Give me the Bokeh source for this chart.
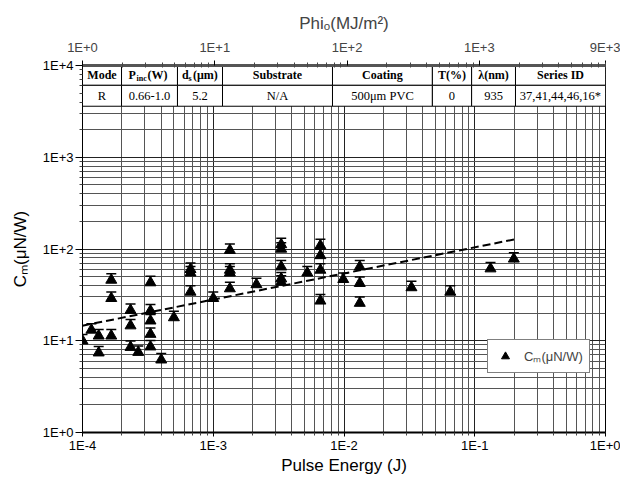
import math
from bokeh.plotting import figure
from bokeh.models import (Range1d, LogScale, LogAxis, FixedTicker, CustomJSTickFormatter,
                          Whisker, ColumnDataSource, Legend, LegendItem, TeeHead)
from bokeh.core.properties import value
from bokeh.embed import file_html
from bokeh.resources import INLINE

# ---------------- data ----------------
energy = [1.0e-4, 1.17e-4, 1.33e-4, 1.33e-4, 1.66e-4, 1.66e-4, 1.66e-4,
          2.33e-4, 2.33e-4, 2.33e-4, 2.67e-4,
          3.31e-4, 3.31e-4, 3.31e-4, 3.31e-4, 3.31e-4, 4.0e-4, 5.0e-4,
          6.7e-4, 6.7e-4, 6.7e-4, 1.0e-3,
          1.34e-3, 1.34e-3, 1.34e-3, 1.34e-3, 2.14e-3,
          3.31e-3, 3.31e-3, 3.31e-3, 3.31e-3, 3.31e-3, 5.24e-3,
          6.6e-3, 6.6e-3, 6.6e-3, 6.6e-3, 9.87e-3,
          1.32e-2, 1.32e-2, 1.32e-2, 3.28e-2, 6.5e-2, 0.132, 0.199]
cm = [10.0, 13.1, 11.3, 7.4, 45.9, 29.0, 11.3,
      21.5, 14.6, 8.5, 7.5,
      43.0, 21.2, 16.5, 11.8, 8.6, 6.2, 17.9,
      60.0, 55.0, 34.0, 29.0,
      97.0, 59.0, 55.0, 37.0, 41.0,
      112.0, 100.0, 64.0, 47.5, 43.6, 55.0,
      109.0, 85.0, 59.0, 27.2, 46.7,
      64.0, 42.3, 25.7, 38.0, 34.0, 61.0, 78.0]
err_frac = 0.17  # upper error bar, relative

fit_energy = [1.0e-4, 0.2]
fit_cm = [14.6, 127.0]

x_ticks = [1e-4, 1e-3, 1e-2, 1e-1, 1.0]
y_ticks = [1.0, 10.0, 100.0, 1000.0, 10000.0]
phi_ticks = [1.0, 10.0, 100.0, 1000.0, 9000.0]

table_headers = ["Mode", "", "", "Substrate", "Coating", "T(%)", "λ(nm)", "Series ID"]
table_values = ["R", "0.66-1.0", "5.2", "N/A", "500μm PVC", "0", "935", "37,41,44,46,16*"]

legend_label = "Cₘ(μN/W)"
x_label = "Pulse Energy (J)"
y_label = "Cₘ(μN/W)"
top_label = "Phiₒ(MJ/m²)"

# ---------------- layout constants ----------------
col_fracs = [0.0, 0.0746, 0.1816, 0.2677, 0.478, 0.669, 0.744, 0.8279, 1.0]
row_fracs = [0.0, 0.054, 0.111]
SANS = "Liberation Sans"
SERIF = "Liberation Serif"


def minors(lo_exp, hi_exp, stop=None):
    out = []
    for e in range(lo_exp, hi_exp):
        for m in range(2, 10):
            v = m * 10.0 ** e
            if stop is None or v <= stop:
                out.append(v)
    return out


fmt = CustomJSTickFormatter(code="""
const e = Math.floor(Math.log10(tick) + 1e-9);
const m = Math.round(tick / Math.pow(10, e));
return m + "E" + (e < 0 ? "-" : "+") + Math.abs(e);
""")

p = figure(frame_width=523, frame_height=367, x_axis_type="log", y_axis_type="log",
           x_range=Range1d(1e-4, 1.0), y_range=Range1d(1.0, 1e4),
           output_backend="svg", toolbar_location=None,
           min_border_left=82, min_border_right=15, min_border_top=65, min_border_bottom=10)
p.outline_line_color = "black"
p.outline_line_width = 1
p.background_fill_color = "white"
p.border_fill_color = "white"

xa = p.below[0]
ya = p.left[0]
xa.ticker = FixedTicker(ticks=x_ticks, minor_ticks=minors(-4, 0))
ya.ticker = FixedTicker(ticks=y_ticks, minor_ticks=minors(0, 4))
for ax in (xa, ya):
    ax.formatter = fmt
    ax.major_label_text_font = SANS
    ax.major_label_text_font_size = "13px"
    ax.major_label_text_color = "black"
    ax.axis_label_text_font = SANS
    ax.axis_label_text_font_size = "17px"
    ax.axis_label_text_font_style = "normal"
    ax.axis_label_text_color = "black"
    ax.axis_line_color = "black"
    ax.major_tick_line_color = "black"
    ax.minor_tick_line_color = "#444444"
    ax.major_tick_in = 0
    ax.minor_tick_in = 0
xa.axis_label = x_label
xa.axis_line_width = 2
xa.major_tick_out = 4
xa.minor_tick_out = 3
xa.major_label_standoff = 1
xa.axis_label_standoff = 0
ya.axis_label = y_label
ya.major_tick_out = 7
ya.minor_tick_out = 3
ya.major_label_standoff = 2
ya.axis_label_standoff = 10

# top axis
p.extra_x_ranges = {"phi": Range1d(1.0, 9000.0)}
p.extra_x_scales = {"phi": LogScale()}
top = LogAxis(x_range_name="phi", ticker=FixedTicker(ticks=phi_ticks, minor_ticks=minors(0, 4, stop=9000.0)),
              formatter=fmt, axis_label=top_label)
top.major_label_text_font = SANS
top.major_label_text_font_size = "13px"
top.axis_label_text_font = SANS
top.axis_label_text_font_size = "17px"
top.axis_label_text_font_style = "normal"
top.axis_line_color = "#555555"
top.axis_line_width = 3
top.major_tick_out = 5
top.major_tick_in = 0
top.minor_tick_out = 3
top.minor_tick_in = 2
top.minor_tick_line_color = "#444444"
top.major_label_standoff = 6
top.axis_label_standoff = 4
p.add_layout(top, "above")

# grid
for g in (p.xgrid[0], p.ygrid[0]):
    g.grid_line_color = "#222222"
    g.grid_line_width = 1
    g.minor_grid_line_color = "#555555"
    g.minor_grid_line_width = 1

# table in the top of the frame
def fx(f):
    return 10 ** (-4 + 4 * f)

def fy(f):
    return 10 ** (4 - 4 * f)

cl, cr, ct, cb = [], [], [], []
for r in range(2):
    for c in range(len(col_fracs) - 1):
        cl.append(fx(col_fracs[c]))
        cr.append(fx(col_fracs[c + 1]))
        ct.append(fy(row_fracs[r]))
        cb.append(fy(row_fracs[r + 1]))
p.quad(left=cl, right=cr, top=ct, bottom=cb, fill_color="white", line_color="black", line_width=1)

cx = [fx((col_fracs[c] + col_fracs[c + 1]) / 2) for c in range(len(col_fracs) - 1)]
hy = fy((row_fracs[0] + row_fracs[1]) / 2)
vy = fy((row_fracs[1] + row_fracs[2]) / 2)
p.text(x=cx, y=[hy] * len(cx), text=table_headers, text_font=value(SERIF), text_font_style="bold",
       text_font_size="12px", text_align="center", text_baseline="middle", text_color="black")
p.text(x=cx, y=[vy] * len(cx), text=table_values, text_font=value(SERIF),
       text_font_size="12.5px", text_align="center", text_baseline="middle", text_color="black")
# headers with subscripts
p.text(x=[cx[1], cx[2]], y=[hy, hy], text=["P", "d"], x_offset=[-21, -18], text_font=value(SERIF),
       text_font_style="bold", text_font_size="12px", text_align="left", text_baseline="middle")
p.text(x=[cx[1], cx[2]], y=[hy, hy], text=["inc", "s"], x_offset=[-13, -11.5], y_offset=[3, 3],
       text_font=value(SERIF), text_font_style="bold", text_font_size="8px",
       text_align="left", text_baseline="middle")
p.text(x=[cx[1], cx[2]], y=[hy, hy], text=["(W)", "(μm)"], x_offset=[-2, -7], text_font=value(SERIF),
       text_font_style="bold", text_font_size="12px", text_align="left", text_baseline="middle")

# fit line
p.line(fit_energy, fit_cm, line_color="black", line_width=2, line_dash="8 4")

# error bars
src = ColumnDataSource(dict(base=energy, lower=cm, upper=[c * (1 + err_frac) for c in cm]))
wh = Whisker(base="base", lower="lower", upper="upper", source=src, dimension="height",
             line_color="black", line_width=1.2,
             upper_head=TeeHead(size=10, line_color="black", line_width=1.5), lower_head=None)
p.add_layout(wh)

r = p.scatter(energy, cm, marker="triangle", size=11, fill_color="black", line_color="black")

legend = Legend(items=[LegendItem(label=legend_label, renderers=[r])], location=(405, 59))
legend.margin = 0
legend.padding = 6
legend.border_line_color = "black"
legend.border_line_width = 1
legend.background_fill_color = "white"
legend.background_fill_alpha = 1
legend.label_text_font = SANS
legend.label_text_font_size = "13px"
legend.glyph_width = 22
legend.label_standoff = 8
p.add_layout(legend)

open("out.html", "w").write(file_html(p, INLINE))
